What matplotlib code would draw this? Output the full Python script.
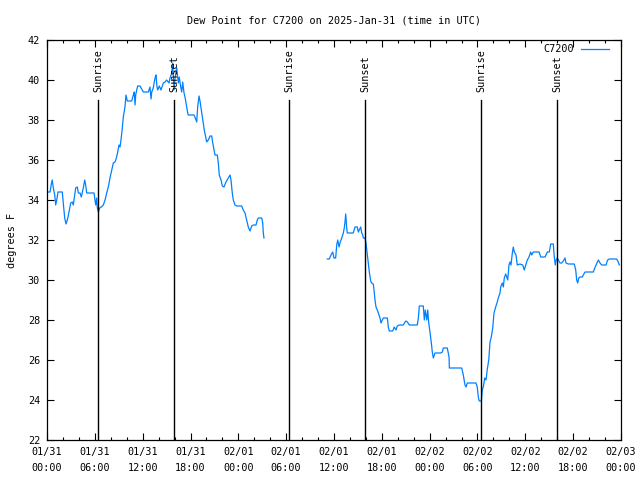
import numpy as np
import matplotlib
matplotlib.use("Agg")
import matplotlib.pyplot as plt
from matplotlib.ticker import MultipleLocator
from datetime import datetime, timedelta

# hours since 2025-01-31 00:00 UTC, dew point in F
hours1 = [0.0, 0.38, 0.54, 0.66, 0.79, 0.97, 1.09, 1.22, 1.38, 1.92, 2.04, 2.22, 2.38, 2.55, 2.76,
          2.97, 3.17, 3.30, 3.60, 3.80, 3.93, 4.14, 4.30, 4.55, 4.73, 4.85, 4.98, 5.90, 5.98, 6.11,
          6.23, 6.31, 6.44, 6.61, 6.81, 7.06, 7.28, 7.49, 7.69, 7.90, 8.12, 8.32, 8.53, 8.74, 8.87,
          9.03, 9.16, 9.28, 9.45, 9.57, 9.78, 9.91, 10.07, 10.62, 10.83, 10.95, 11.04, 11.13, 11.25,
          11.38, 11.67, 11.88, 12.08, 12.71, 12.92, 13.05, 13.14, 13.33, 13.55, 13.67, 13.80, 13.89,
          14.09, 14.30, 14.59, 14.80, 15.01, 15.30, 15.43, 15.65, 15.77, 15.93, 16.06, 16.27, 16.47,
          16.59, 16.77, 16.90, 17.02, 17.19, 17.31, 17.44, 17.65, 17.72, 18.44, 18.60, 18.78, 18.90,
          19.07, 19.19, 19.32, 19.48, 19.61, 19.73, 19.91, 20.03, 20.23, 20.45, 20.66, 20.79, 20.95,
          21.07, 21.36, 21.49, 21.61, 21.83, 21.99, 22.20, 22.45, 22.74, 22.96, 23.08, 23.24, 23.37,
          23.58, 23.80, 24.42, 24.62, 24.84, 25.05, 25.25, 25.46, 25.68, 25.88, 26.22, 26.38, 26.51,
          26.93, 27.06, 27.13, 27.22]
dew1 = [34.4, 34.4, 34.8, 35.0, 34.6, 34.25, 33.75, 34.0, 34.4, 34.4, 33.85, 33.1, 32.8, 33.0, 33.4,
        33.85, 33.9, 33.75, 34.6, 34.65, 34.35, 34.35, 34.15, 34.6, 35.0, 34.75, 34.35, 34.35, 34.1, 33.75,
        34.1, 33.6, 33.4, 33.6, 33.65, 33.75, 34.0, 34.35, 34.65, 35.1, 35.5, 35.85, 35.9, 36.15, 36.4,
        36.75, 36.65, 37.0, 37.6, 38.15, 38.65, 39.25, 38.95, 38.95, 39.25, 39.4, 38.75, 39.25, 39.5,
        39.7, 39.7, 39.55, 39.4, 39.4, 39.65, 39.05, 39.4, 39.6, 40.1, 40.25, 39.65, 39.5,
        39.7, 39.5, 39.85, 39.9, 40.0, 39.85, 40.1, 40.35, 40.85, 39.5, 40.1, 40.6, 39.85,
        40.15, 39.65, 39.4, 39.9, 39.35, 39.15, 38.85, 38.35, 38.25, 38.25, 38.1, 37.9, 38.65,
        39.2, 38.95, 38.6, 38.15, 37.85, 37.5, 37.15, 36.9, 37.0, 37.2, 37.2, 36.85, 36.5,
        36.25, 36.25, 35.85, 35.25, 35.0, 34.7, 34.65, 34.9, 35.1, 35.25, 35.0, 34.35, 34.0,
        33.75, 33.7, 33.7, 33.5, 33.35, 33.0, 32.65, 32.45, 32.7, 32.75, 32.75, 33.0, 33.1,
        33.1, 32.85, 32.35, 32.1]

hours2 = [35.16, 35.41, 35.62, 35.84, 36.00, 36.21, 36.34, 36.47, 36.63, 36.75, 36.97, 37.17, 37.29,
          37.38, 37.47, 37.59, 37.67, 38.42, 38.63, 38.92, 39.05, 39.17, 39.35, 39.48, 39.60, 39.68,
          39.89, 40.01, 40.18, 40.30, 40.43, 40.60, 40.73, 40.93, 41.02, 41.14, 41.27, 41.43, 41.56,
          41.77, 41.90, 42.06, 42.19, 42.69, 42.81, 42.94, 43.36, 43.56, 43.78, 43.94, 44.19, 44.69,
          44.91, 45.03, 45.20, 45.45, 46.45, 46.58, 46.70, 47.20, 47.33, 47.45, 47.63, 47.76, 47.88,
          48.04, 48.21, 48.33, 48.46, 48.67, 49.39, 49.59, 49.71, 50.21, 50.34, 50.43, 50.47, 52.02,
          52.22, 52.43, 52.56, 52.72, 53.81, 53.97, 54.10, 54.22, 54.48, 54.60, 54.73, 54.90, 55.07,
          55.23, 55.41, 55.57, 55.73, 55.91, 56.07, 56.28, 56.48, 56.61, 56.82, 56.91, 57.11, 57.24,
          57.36, 57.54, 57.66, 57.79, 57.95, 58.08, 58.20, 58.37, 58.49, 58.62, 58.83, 58.99, 59.33,
          59.67, 59.87, 60.05, 60.25, 60.46, 60.67, 60.80, 61.00, 61.72, 61.93, 62.47, 62.76, 63.01,
          63.18, 63.51, 63.63, 63.76, 63.85, 64.01, 64.14, 64.35, 64.56, 64.76, 64.98, 65.10, 65.39,
          66.14, 66.32, 66.44, 66.57, 66.70, 66.86, 67.15, 67.27, 67.49, 68.53, 68.71, 68.87, 69.16,
          69.37, 69.58, 70.12, 70.32, 70.53, 71.46, 71.66, 71.79]
dew2 = [31.05, 31.05, 31.25, 31.4, 31.1, 31.1, 31.75, 32.0, 31.65, 31.85, 32.1, 32.35, 32.6,
        32.9, 33.3, 32.6, 32.35, 32.35, 32.65, 32.65, 32.4, 32.5, 32.65, 32.35, 32.25, 32.1,
        32.1, 31.85, 31.25, 30.85, 30.4, 29.95, 29.85, 29.8, 29.5, 29.0, 28.65, 28.5, 28.35,
        28.1, 27.85, 28.0, 28.1, 28.1, 27.65, 27.45, 27.45, 27.65, 27.5, 27.7, 27.75, 27.75,
        27.9, 27.95, 27.9, 27.75, 27.75, 28.1, 28.7, 28.7, 28.0, 28.5, 28.0, 28.5, 27.85,
        27.4, 26.85, 26.4, 26.1, 26.35, 26.35, 26.4, 26.6, 26.6, 26.35, 26.15, 25.6, 25.6,
        25.25, 24.75, 24.65, 24.85, 24.85, 24.65, 24.15, 23.95, 23.95, 24.5, 24.65, 25.1, 25.0,
        25.55, 26.0, 26.9, 27.15, 27.6, 28.35, 28.65, 28.9, 29.1, 29.35, 29.65, 29.85, 29.65,
        30.1, 30.3, 30.15, 30.0, 30.75, 30.9, 30.75, 31.35, 31.65, 31.4, 31.25, 30.75, 30.8,
        30.75, 30.5, 30.75, 31.0, 31.15, 31.4, 31.25, 31.4, 31.4, 31.15, 31.15, 31.4, 31.4,
        31.8, 31.8, 31.15, 30.75, 31.0, 31.1, 31.0, 30.85, 30.85, 30.95, 31.1, 30.85, 30.8,
        30.8, 30.5, 30.0, 29.85, 30.1, 30.15, 30.15, 30.25, 30.4, 30.4, 30.6, 30.75, 31.0,
        30.85, 30.75, 30.75, 31.0, 31.05, 31.05, 30.9, 30.75]

sun_hours = [6.43, 15.93, 30.36, 39.89, 54.5, 64.0]
sun_labels = ["Sunrise", "Sunset", "Sunrise", "Sunset", "Sunrise", "Sunset"]

start = datetime(2025, 1, 31)
fs = 7.3
plt.rcParams['font.family'] = "DejaVu Sans Mono"

fig = plt.figure(figsize=(6.4, 4.8), dpi=100)
ax = fig.add_axes([47/640, 40/480, 574/640, 400/480])

line1, = ax.plot(hours1, dew1, color="#0080ff", lw=0.9)
ax.plot(hours2, dew2, color="#0080ff", lw=0.9)

for h, lab in zip(sun_hours, sun_labels):
    ax.plot([h, h], [22, 39], color="black", lw=1.0)
    ax.text(h, 39.4, lab, rotation=90, ha="center", va="bottom", fontsize=fs)

ax.set_xlim(0, 72)
ax.set_ylim(22, 42)
ax.xaxis.set_minor_locator(MultipleLocator(2))
ax.yaxis.set_major_locator(MultipleLocator(2))
ticks = np.arange(0, 73, 6)
ax.set_xticks(ticks)
ax.set_xticklabels([(start + timedelta(hours=int(t))).strftime("%m/%d\n%H:%M") for t in ticks],
                   linespacing=1.7)
ax.tick_params(which="both", direction="in", top=True, right=True, labelsize=fs)
ax.tick_params(axis="x", pad=5)
ax.tick_params(axis="y", pad=5)
ax.tick_params(which="major", length=5, width=0.8)
ax.tick_params(which="minor", length=2.5, width=0.8)
for s in ax.spines.values():
    s.set_linewidth(0.9)

ax.set_ylabel("degrees F", fontsize=fs, labelpad=8)
ax.set_title("Dew Point for C7200 on 2025-Jan-31 (time in UTC)", fontsize=fs, pad=12)
leg = ax.legend([line1], ["C7200"], loc="upper right", bbox_to_anchor=(0.988, 1.0025),
                frameon=False, markerfirst=False, handlelength=2.8, handletextpad=0.7,
                fontsize=fs, borderaxespad=0.1)
leg.set_zorder(5)

fig.savefig("out.png", dpi=100)
